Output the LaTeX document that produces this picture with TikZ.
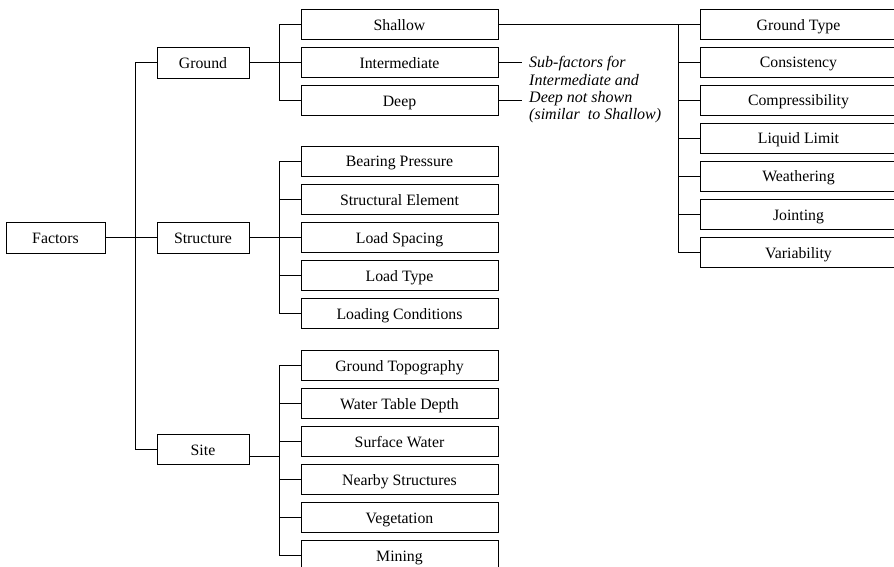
\documentclass[tikz,border=0pt]{standalone}
\usepackage{fontspec}
\setmainfont{Liberation Serif}
\begin{document}
\begin{tikzpicture}[x=1pt,y=-1pt,
  every node/.style={inner sep=0pt},
  box/.style={draw, line width=0.8pt, minimum height=30pt, font=\fontsize{15.8}{18}\selectfont, text height=12pt, text depth=0pt},
  mainbox/.style={box, minimum width=92pt, minimum height=31pt},
  subbox/.style={box, minimum width=197pt},
  notetxt/.style={font=\fontsize{16}{19}\selectfont\itshape, anchor=west, inner xsep=7pt, text height=11pt, text depth=4pt},
  link/.style={line width=0.8pt}]
\useasboundingbox (0,0) rectangle (894,567);
\clip (0,0) rectangle (894,567);
\coordinate (tx) at (135,0);
\coordinate (bx) at (279,0);
\coordinate (rx) at (678,0);
% level 0 and 1
\node[mainbox, minimum width=99pt] (factors) at (55.5,237.5) {Factors};
\node[mainbox] (ground) at (203,62.5) {Ground};
\node[mainbox] (structure) at (203,237.5) {Structure};
\node[mainbox, minimum height=30pt] (site) at (203,449) {Site};
% ground sub
\node[subbox] (shallow) at (399.5,24.5) {Shallow};
\node[subbox] (inter) at (399.5,62.5) {Intermediate};
\node[subbox] (deep) at (399.5,100.5) {Deep};
% structure sub
\node[subbox] (bp) at (399.5,161) {Bearing Pressure};
\node[subbox] (se) at (399.5,199) {Structural Element};
\node[subbox] (ls) at (399.5,237.5) {Load Spacing};
\node[subbox] (lt) at (399.5,275) {Load Type};
\node[subbox] (lc) at (399.5,313) {Loading Conditions};
% site sub
\node[subbox] (gtopo) at (399.5,365.5) {Ground Topography};
\node[subbox] (wtd) at (399.5,403.5) {Water Table Depth};
\node[subbox] (sw) at (399.5,441.5) {Surface Water};
\node[subbox] (ns) at (399.5,479.5) {Nearby Structures};
\node[subbox] (veg) at (399.5,517) {Vegetation};
\node[subbox] (mining) at (399.5,555) {Mining};
% shallow sub
\node[subbox] (gtype) at (798.5,24.5) {Ground Type};
\node[subbox] (cons) at (798.5,62) {Consistency};
\node[subbox] (comp) at (798.5,100) {Compressibility};
\node[subbox] (ll) at (798.5,138) {Liquid Limit};
\node[subbox] (weath) at (798.5,176) {Weathering};
\node[subbox] (joint) at (798.5,214) {Jointing};
\node[subbox] (var) at (798.5,252) {Variability};
% note
\node[notetxt] (n1) at (522,64.2) {Sub-factors for};
\node[notetxt] (n2) at (522,81.6) {Intermediate and};
\node[notetxt] (n3) at (522,99) {Deep not shown};
\node[notetxt] (n4) at (522,116.4) {(similar\ \ to Shallow)};
% connectors
\draw[link] (factors) -- (structure);
\draw[link] (ground.west) -- (ground.west -| tx) -- (site.west -| tx) -- (site.west);
\draw[link] (ground) -- (inter);
\draw[link] (shallow.west) -- (shallow.west -| bx) -- (deep.west -| bx) -- (deep.west);
\draw[link] (structure) -- (ls);
\draw[link] (bp.west) -- (bp.west -| bx) -- (lc.west -| bx) -- (lc.west);
\draw[link] (se.west) -- (se.west -| bx);
\draw[link] (lt.west) -- (lt.west -| bx);
\draw[link] ([yshift=-7pt]site.east) -- ([yshift=-7pt]site.east -| bx);
\draw[link] (gtopo.west) -- (gtopo.west -| bx) -- (mining.west -| bx) -- (mining.west);
\draw[link] (wtd.west) -- (wtd.west -| bx);
\draw[link] (sw.west) -- (sw.west -| bx);
\draw[link] (ns.west) -- (ns.west -| bx);
\draw[link] (veg.west) -- (veg.west -| bx);
\draw[link] (shallow) -- (gtype);
\draw[link] (gtype.west -| rx) -- (var.west -| rx) -- (var.west);
\draw[link] (cons.west) -- (cons.west -| rx);
\draw[link] (comp.west) -- (comp.west -| rx);
\draw[link] (ll.west) -- (ll.west -| rx);
\draw[link] (weath.west) -- (weath.west -| rx);
\draw[link] (joint.west) -- (joint.west -| rx);
\draw[link] (inter.east) -- (inter.east -| n1.west);
\draw[link] (deep.east) -- (deep.east -| n3.west);
\end{tikzpicture}
\end{document}
